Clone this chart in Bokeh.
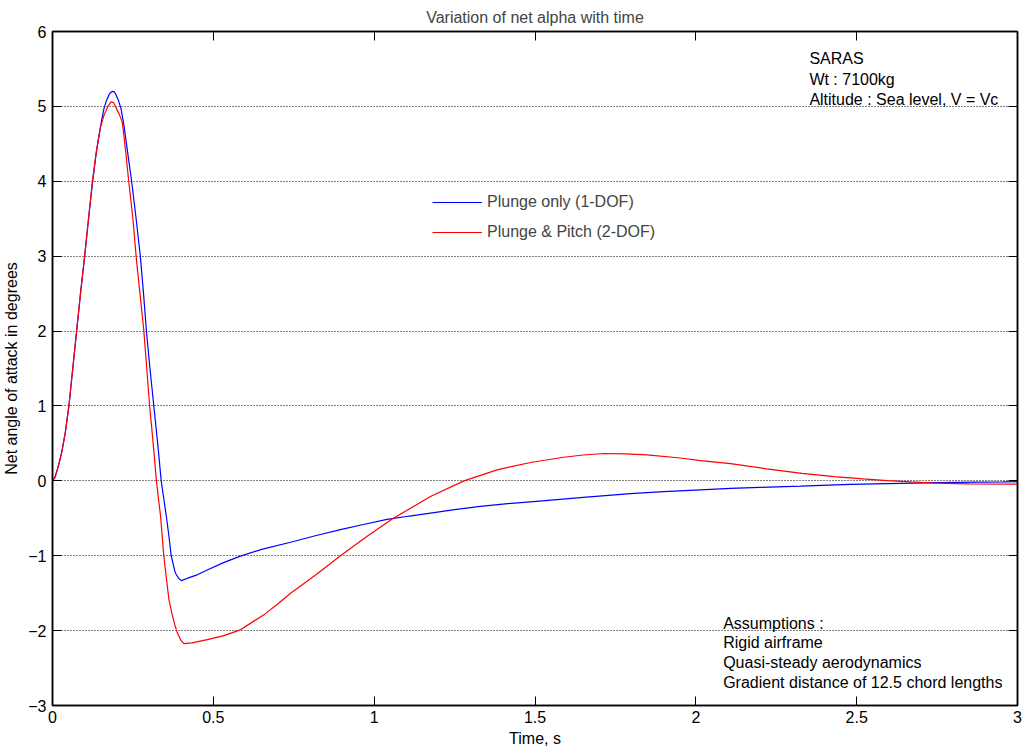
from bokeh.plotting import figure
from bokeh.models import Range1d, LinearAxis, FixedTicker, Legend, LegendItem, Label
from bokeh.embed import file_html
from bokeh.resources import INLINE

# ---- data ----
t_plunge = [0, 0.008, 0.015, 0.022, 0.03, 0.04, 0.051, 0.063, 0.075, 0.087, 0.1, 0.112,
            0.125, 0.135, 0.145, 0.153, 0.16, 0.168, 0.176, 0.182, 0.188, 0.193, 0.198,
            0.205, 0.213, 0.222, 0.23, 0.238, 0.246, 0.26, 0.273, 0.283, 0.292, 0.303,
            0.315, 0.327, 0.338, 0.346, 0.354, 0.362, 0.369, 0.376, 0.382, 0.392, 0.401,
            0.42, 0.45, 0.481, 0.53, 0.584, 0.65, 0.74, 0.82, 0.895, 0.97, 1.04, 1.11,
            1.175, 1.25, 1.33, 1.4, 1.486, 1.65, 1.797, 1.9, 2.014, 2.108, 2.2, 2.325,
            2.48, 2.676, 2.8, 2.956, 3.0]
a_plunge = [0, 0.05, 0.15, 0.26, 0.41, 0.65, 1.0, 1.5, 2.0, 2.5, 3.0, 3.5,
            4.0, 4.35, 4.62, 4.82, 4.97, 5.08, 5.16, 5.19, 5.2, 5.19, 5.15,
            5.08, 4.97, 4.75, 4.5, 4.25, 4.0, 3.5, 3.0, 2.5, 2.0, 1.5,
            1.0, 0.5, 0.0, -0.24, -0.476, -0.74, -1.0, -1.13, -1.23, -1.3, -1.333,
            -1.3, -1.255, -1.19, -1.095, -1.005, -0.915, -0.82, -0.73, -0.652, -0.58, -0.514, -0.47,
            -0.43, -0.385, -0.34, -0.31, -0.28, -0.22, -0.17, -0.145, -0.12, -0.1, -0.087, -0.07,
            -0.047, -0.03, -0.02, -0.013, -0.01]

t_pitch = [0, 0.008, 0.015, 0.022, 0.03, 0.04, 0.051, 0.063, 0.075, 0.087, 0.1, 0.112,
           0.124, 0.137, 0.149, 0.16, 0.172, 0.182, 0.19, 0.198, 0.207, 0.217, 0.227,
           0.237, 0.25, 0.261, 0.272, 0.284, 0.293, 0.302, 0.313, 0.323, 0.336, 0.346,
           0.354, 0.362, 0.372, 0.38, 0.388, 0.398, 0.408, 0.434, 0.481, 0.53, 0.584,
           0.62, 0.66, 0.70, 0.74, 0.82, 0.895, 0.975, 1.056, 1.175, 1.279, 1.382, 1.486, 1.589,
           1.65, 1.714, 1.78, 1.848, 1.952, 2.014, 2.108, 2.22, 2.33, 2.43, 2.52, 2.595,
           2.67, 2.74, 2.85, 3.0]
a_pitch = [0, 0.05, 0.15, 0.26, 0.41, 0.65, 1.0, 1.5, 2.0, 2.5, 3.0, 3.5,
           4.0, 4.42, 4.72, 4.88, 5.0, 5.06, 5.05, 4.98, 4.9, 4.79, 4.42,
           4.0, 3.5, 2.95, 2.5, 2.0, 1.5, 1.0, 0.5, 0.0, -0.476, -1.0,
           -1.3, -1.587, -1.787, -1.92, -2.03, -2.12, -2.173, -2.164, -2.12, -2.07, -1.99,
           -1.89, -1.78, -1.645, -1.5, -1.25, -1.0, -0.75, -0.51, -0.21, 0.0, 0.147, 0.245, 0.315,
           0.345, 0.365, 0.36, 0.347, 0.305, 0.27, 0.23, 0.16, 0.10, 0.057, 0.025, 0.004,
           -0.015, -0.03, -0.04, -0.045]

x_ticks = [0, 0.5, 1, 1.5, 2, 2.5, 3]
y_ticks = [-3, -2, -1, 0, 1, 2, 3, 4, 5, 6]

FONT = "Liberation Sans"
FS = "16px"

p = figure(width=1031, height=753, output_backend="svg", toolbar_location=None,
           x_range=Range1d(0, 3), y_range=Range1d(-3, 6),
           min_border_left=52, min_border_right=14, min_border_top=31, min_border_bottom=48,
           title="Variation of net alpha with time")
p.title.align = "center"
p.title.text_font = FONT
p.title.text_font_size = FS
p.title.text_font_style = "normal"
p.title.standoff = 11

p.background_fill_color = "white"
p.border_fill_color = "white"
p.outline_line_color = "black"
p.outline_line_width = 1.5

# axes
p.xaxis.ticker = FixedTicker(ticks=x_ticks)
p.yaxis.ticker = FixedTicker(ticks=y_ticks)
p.xaxis.axis_label = "Time, s"
p.yaxis.axis_label = "Net angle of attack in degrees"
for ax in (p.xaxis[0], p.yaxis[0]):
    ax.major_tick_in = 9
    ax.major_tick_out = 0
    ax.minor_tick_in = 0
    ax.minor_tick_out = 0
    ax.axis_line_color = "black"
    ax.axis_line_width = 1.5
    ax.major_tick_line_color = "black"
    ax.major_label_text_font = FONT
    ax.major_label_text_font_size = FS
    ax.major_label_text_color = "black"
    ax.axis_label_text_font = FONT
    ax.axis_label_text_font_size = FS
    ax.axis_label_text_font_style = "normal"
    ax.axis_label_text_color = "black"
p.xaxis.major_label_standoff = 5
p.xaxis.axis_label_standoff = 4
p.yaxis.major_label_standoff = 6
p.yaxis.axis_label_standoff = 5

for loc, ticks in (("above", x_ticks), ("right", y_ticks)):
    ax = LinearAxis(ticker=FixedTicker(ticks=ticks))
    ax.major_tick_in = 9
    ax.major_tick_out = 0
    ax.minor_tick_in = 0
    ax.minor_tick_out = 0
    ax.major_label_text_font_size = "0px"
    ax.major_label_text_color = None
    ax.major_label_standoff = 0
    ax.axis_line_color = "black"
    ax.axis_line_width = 1.5
    p.add_layout(ax, loc)

# grid: horizontal dotted only
p.xgrid.grid_line_color = None
p.ygrid.ticker = FixedTicker(ticks=y_ticks)
p.ygrid.grid_line_color = "black"
p.ygrid.grid_line_dash = "1 2"
p.ygrid.grid_line_width = 1.2
p.ygrid.grid_line_alpha = 1.0

r1 = p.line(t_plunge, a_plunge, line_color="#0000FF", line_width=1.2)
r2 = p.line(t_pitch, a_pitch, line_color="#FF0000", line_width=1.2)

legend = Legend(items=[LegendItem(label="Plunge only (1-DOF)", renderers=[r1]),
                       LegendItem(label="Plunge & Pitch (2-DOF)", renderers=[r2])],
                location=(380, 463), padding=0, margin=0, spacing=10,
                glyph_width=50, glyph_height=20, label_height=20, label_standoff=5,
                border_line_color=None, background_fill_alpha=0,
                label_text_font=FONT, label_text_font_size=FS)
p.add_layout(legend, "center")

info = ["SARAS", "Wt : 7100kg", "Altitude : Sea level, V = Vc"]
info_y = [5.636, 5.36, 5.093]
for txt, yy in zip(info, info_y):
    p.add_layout(Label(x=2.353, y=yy, text=txt, text_font=FONT, text_font_size=FS,
                       text_baseline="middle", text_align="left", text_color="black"))

assump = ["Assumptions :", "Rigid airframe", "Quasi-steady aerodynamics",
          "Gradient distance of 12.5 chord lengths"]
assump_y = [-1.90, -2.164, -2.43, -2.697]
for txt, yy in zip(assump, assump_y):
    p.add_layout(Label(x=2.085, y=yy, text=txt, text_font=FONT, text_font_size=FS,
                       text_baseline="middle", text_align="left", text_color="black"))

open("out.html", "w").write(file_html(p, INLINE))
